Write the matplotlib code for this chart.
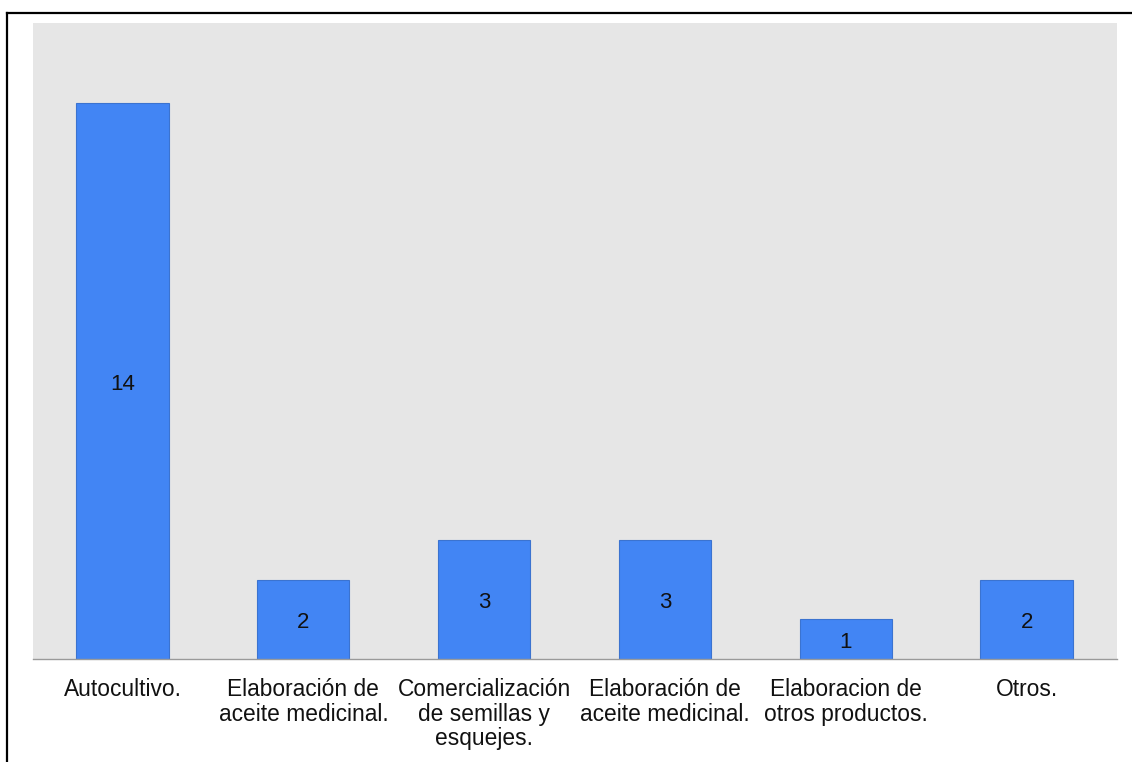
import matplotlib.pyplot as plt
from matplotlib.lines import Line2D

categories = [
    "Autocultivo.",
    "Elaboración de\naceite medicinal.",
    "Comercialización\nde semillas y\nesquejes.",
    "Elaboración de\naceite medicinal.",
    "Elaboracion de\notros productos.",
    "Otros.",
]
values = [14, 2, 3, 3, 1, 2]

plt.rcParams["font.family"] = ["Liberation Sans", "DejaVu Sans"]

fig = plt.figure(figsize=(11.32, 7.62), dpi=100)
ax = fig.add_axes([33 / 1132, 1 - 659 / 762, 1084 / 1132, 636 / 762])
ax.set_facecolor("#e6e6e6")

x = list(range(len(values)))
bars = ax.bar(x, values, width=0.51, color="#4285f4", edgecolor="#3b73d0", linewidth=0.8)

# value labels centered inside each bar
for xi, v in zip(x, values):
    ax.annotate(str(v), (xi, v / 2), xytext=(0, -2.5), textcoords="offset points",
                ha="center", va="center", fontsize=16, color="#111111")

ax.set_xlim(-0.495, 5.5)
ax.set_ylim(0, 16)
ax.set_yticks([])
ax.set_xticks(x)
ax.set_xticklabels(categories, fontsize=16.4, linespacing=1.1, multialignment="center",
                   color="#111111")
ax.tick_params(axis="x", length=0, pad=13.5)

for side in ["top", "right", "left"]:
    ax.spines[side].set_visible(False)
ax.spines["bottom"].set_color("#9a9a9a")
ax.spines["bottom"].set_linewidth(1.0)

# outer frame: top and left edges only
fig.add_artist(Line2D([6.5 / 1132, 1], [1 - 12.5 / 762, 1 - 12.5 / 762],
                      transform=fig.transFigure, color="black", linewidth=1.6))
fig.add_artist(Line2D([6.5 / 1132, 6.5 / 1132], [0, 1 - 12.5 / 762],
                      transform=fig.transFigure, color="black", linewidth=1.6))

fig.savefig("out.png", dpi=100)
plt.close(fig)
